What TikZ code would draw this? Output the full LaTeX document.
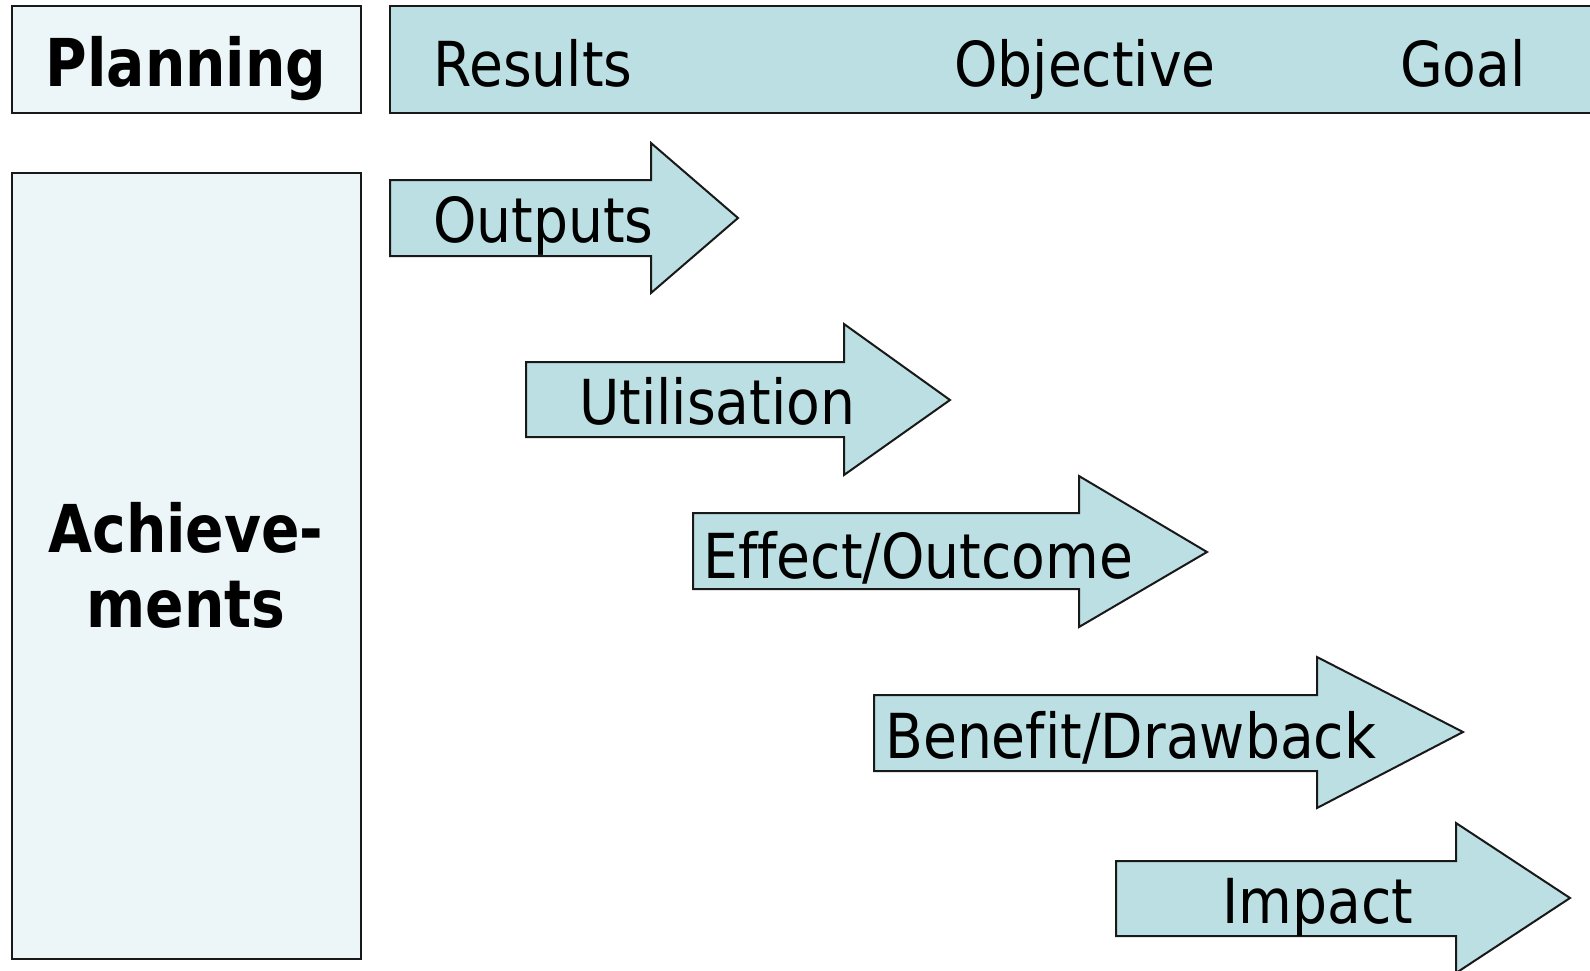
\documentclass[tikz,border=0pt]{standalone}
\usepackage{fontspec}
\setmainfont{DejaVu Sans}[FakeStretch=0.89, Ligatures={NoCommon}]
\newfontfamily\headfont{DejaVu Sans}[FakeStretch=0.86, Ligatures={NoCommon}]
\definecolor{teal}{HTML}{BBDFE2}
\definecolor{pale}{HTML}{ECF5F7}
\tikzset{
  boxline/.style={draw=black!90, line width=2pt, line join=miter},
  arrowshape/.style={boxline, fill=teal},
  lbl/.style={anchor=base west, inner sep=0pt, font=\fontsize{62}{70}\selectfont},
  head/.style={anchor=base, inner sep=0pt, font=\headfont\bfseries\fontsize{66}{75}\selectfont},
}
\begin{document}
\begin{tikzpicture}[x=1pt,y=-1pt]
\useasboundingbox (0,0) rectangle (1590,970);
\clip (0,0) rectangle (1590,970);
% left boxes
\draw[boxline, fill=pale] (12,6) rectangle (361,113);
\draw[boxline, fill=pale] (12,173) rectangle (361,959);
% top banner
\draw[boxline, fill=teal] (390,6) rectangle (1600,113);
% arrows
\draw[arrowshape] (390,180) -- (651,180) -- (651,143) -- (738,218) -- (651,293) -- (651,256) -- (390,256) -- cycle;
\draw[arrowshape] (526,362) -- (844,362) -- (844,324) -- (950,400) -- (844,475) -- (844,437) -- (526,437) -- cycle;
\draw[arrowshape] (693,513) -- (1079,513) -- (1079,476) -- (1207,552) -- (1079,627) -- (1079,589) -- (693,589) -- cycle;
\draw[arrowshape] (874,695) -- (1317,695) -- (1317,657) -- (1463,732) -- (1317,808) -- (1317,771) -- (874,771) -- cycle;
\draw[arrowshape] (1116,861) -- (1456,861) -- (1456,823) -- (1570,898) -- (1456,973) -- (1456,936) -- (1116,936) -- cycle;
% texts
\node[head] (planning) at (186,86) {Planning};
\node[head] (ach1) at (186,552) {Achieve-};
\node[head] (ach2) at (186,627) {ments};
\node[lbl] (results) at (433,86) {Results};
\node[lbl] (objective) at (954,86) {Objective};
\node[lbl] (goal) at (1400,86) {Goal};
\node[lbl] (outputs) at (433,242) {Outputs};
\node[lbl] (util) at (579,424) {Utilisation};
\node[lbl] (effect) at (703,578) {Effect/Outcome};
\node[lbl] (benefit) at (885,758) {Benefit/Drawback};
\node[lbl] (impact) at (1222,923) {Impact};
\end{tikzpicture}
\end{document}
